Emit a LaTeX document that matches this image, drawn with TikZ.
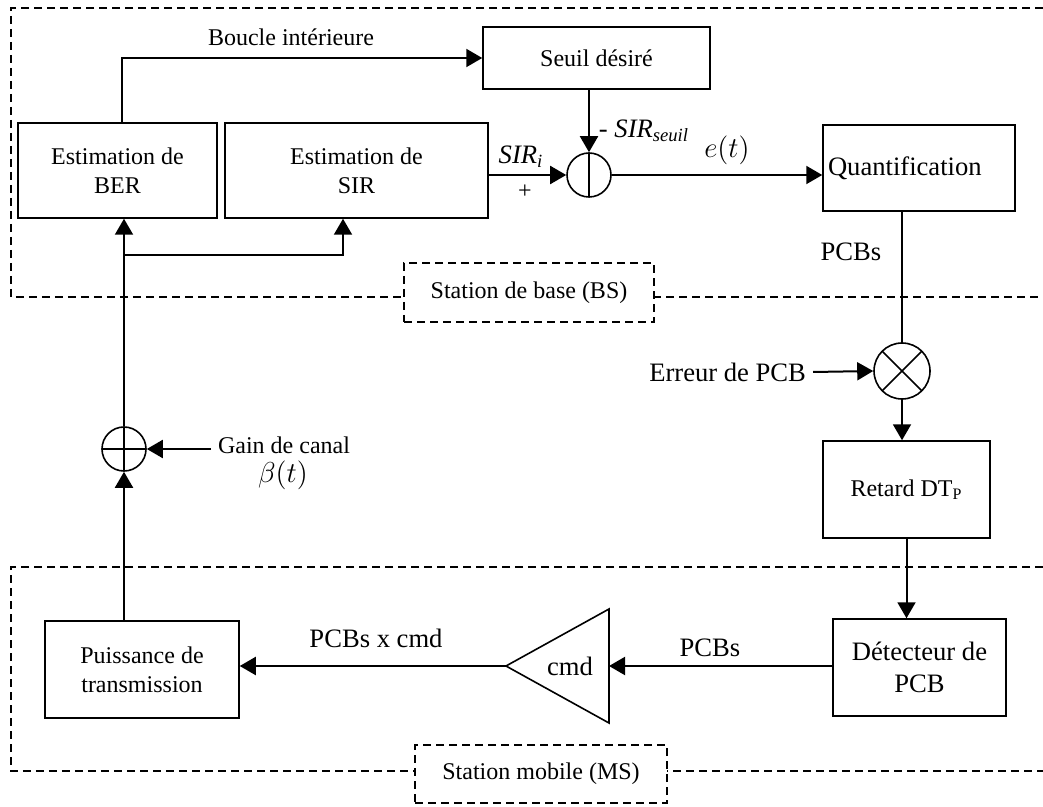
\documentclass[tikz,border=0pt]{standalone}
\usepackage{fontspec}
\setmainfont{Liberation Serif}
\usetikzlibrary{arrows.meta, positioning, calc}

\begin{document}
\begin{tikzpicture}[
        x=0.5pt, y=-0.5pt,
        txt/.style={font=\fontsize{12}{14.5}\selectfont},
        bigtxt/.style={font=\fontsize{13.3}{16}\selectfont},
        box/.style={rectangle, draw, line width=0.75pt, align=center, txt},
        sumnode/.style={circle, draw, line width=0.8pt, minimum size=22pt, inner sep=0pt},
        arr/.style={-{Triangle[length=8pt, width=9pt]}, line width=1pt},
        wire/.style={line width=1pt},
        zone/.style={dash pattern=on 4pt off 2.5pt, line width=0.75pt},
        zonelabel/.style={rectangle, draw, zone, fill=white, txt}
    ]
        \useasboundingbox (0,0) rectangle (1043,807);

        % zones BS / MS
        \draw[zone] (1043,8) -- (11,8) -- (11,297) -- (1043,297);
        \draw[zone] (1043,567) -- (11,567) -- (11,771) -- (1043,771);
        \node[zonelabel, minimum width=125pt, minimum height=29.5pt] (bs) at (529,292.5) {Station de base (BS)};
        \node[zonelabel, minimum width=126pt, minimum height=29pt] (ms) at (541,774) {Station mobile (MS)};

        % blocs
        \node[box, minimum width=99.5pt, minimum height=47.5pt] (ber) at (117.5,170.5) {Estimation de\\BER};
        \node[box, minimum width=131.5pt, minimum height=47.5pt] (sir) at (356.5,170.5) {Estimation de\\SIR};
        \node[box, minimum width=113.5pt, minimum height=31pt] (seuil) at (596.5,58) {Seuil désiré};
        \node[box, bigtxt, align=left, text width=91pt, inner xsep=2.5pt, minimum height=43pt] (quant) at (919,168) {Quantification};
        \node[box, minimum width=83.5pt, minimum height=48.5pt] (retard) at (906.5,489.5) {Retard DT\textsubscript{P}};
        \node[box, bigtxt, minimum width=86.5pt, minimum height=48.5pt] (detect) at (919.5,667.5) {Détecteur de\\PCB};
        \node[box, minimum width=97pt, minimum height=48.5pt] (puiss) at (142,669.5) {Puissance de\\transmission};

        % sommateurs
        \node[sumnode, path picture={\draw[line width=0.8pt] (path picture bounding box.north) -- (path picture bounding box.south);}] (sum1) at (589,175) {};
        \node[sumnode, path picture={\draw[line width=0.8pt] (path picture bounding box.north) -- (path picture bounding box.south) (path picture bounding box.west) -- (path picture bounding box.east);}] (sum2) at (124,449) {};
        \node[sumnode, minimum size=28pt, path picture={\draw[line width=0.8pt] (path picture bounding box.north west) -- (path picture bounding box.south east) (path picture bounding box.south west) -- (path picture bounding box.north east);}] (mult) at (902,371) {};

        % amplificateur
        \coordinate (amptip) at (506,666);
        \coordinate (ampin) at (609,666);
        \draw[line width=0.8pt] (amptip) -- (609,609) -- (609,723) -- cycle;
        \node[bigtxt] (cmd) at (570,666) {cmd};

        % textes
        \node[txt] (boucle) at (291,37) {Boucle intérieure};
        \node[bigtxt] (sirilbl) at (521,157) {\textit{SIR}\textsubscript{\textit{i}}};
        \node[txt] (plus) at (525,192) {+};
        \node[bigtxt] (seuillbl) at (644,131) {- \textit{SIR}\textsubscript{\textit{seuil}}};
        \node[bigtxt] (elbl) at (727,150) {$e(t)$};
        \node[bigtxt] (pcbq) at (851,252) {PCBs};
        \node[bigtxt, anchor=east] (err) at (813,372) {Erreur de PCB};
        \node[txt, anchor=west] (gain) at (211,445) {Gain de canal};
        \node[bigtxt] (beta) at (283,475) {$\beta(t)$};
        \node[bigtxt] (pcbcmd) at (376,638) {PCBs x cmd};
        \node[bigtxt] (pcbd) at (710,648) {PCBs};

        % liaisons
        \draw[arr] ([xshift=2.25pt]ber.north) |- (seuil.west);
        \draw[arr] (sir.east |- sum1) -- (sum1.west);
        \draw[arr] (seuil.south -| sum1) -- (sum1.north);
        \draw[arr] (sum1.east) -- (sum1.east -| quant.west);
        \draw[wire] (quant.south -| mult) -- (mult.north);
        \draw[arr] (err.east) -- (mult.west);
        \draw[arr] (mult.south) -- (mult.south |- retard.north);
        \draw[arr] (retard.south) -- (retard.south |- detect.north);
        \draw[arr] (detect.west |- ampin) -- (ampin);
        \draw[arr] (amptip) -- (amptip -| puiss.east);
        \draw[arr] (sum2 |- puiss.north) -- (sum2.south);
        \draw[arr] (sum2.east -| gain.west) -- (sum2.east);
        \draw[arr] (sum2.north) -- (sum2.north |- ber.south);
        \coordinate (split) at (124,255);
        \draw[arr] (split) -| ([xshift=-6.75pt]sir.south);
    \end{tikzpicture}
\end{document}
